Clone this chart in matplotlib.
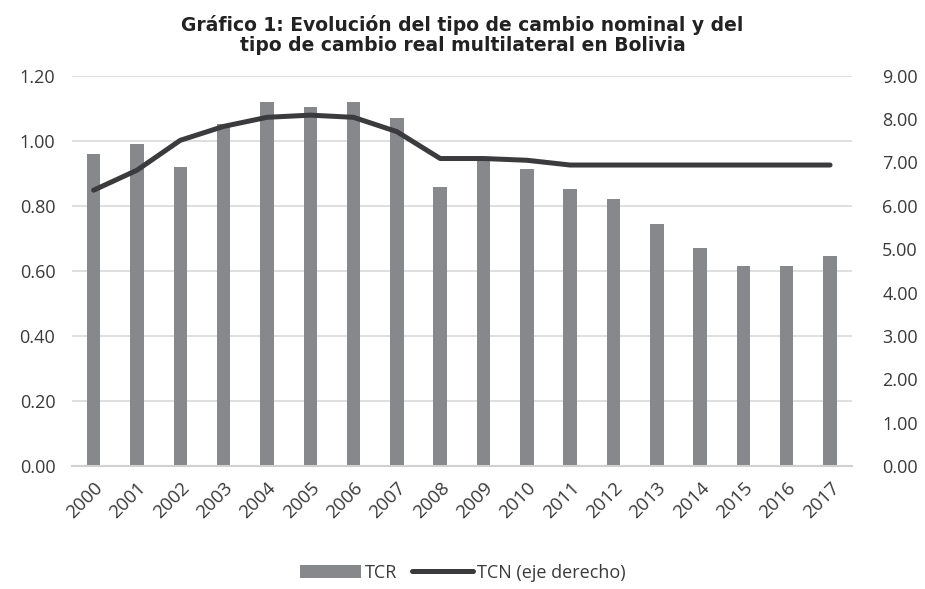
import matplotlib
matplotlib.use('Agg')
import matplotlib.pyplot as plt
import numpy as np

# Data
years = ['2000', '2001', '2002', '2003', '2004', '2005', '2006', '2007', '2008',
         '2009', '2010', '2011', '2012', '2013', '2014', '2015', '2016', '2017']
tcr = [0.96, 0.99, 0.92, 1.05, 1.12, 1.105, 1.12, 1.07, 0.857,
       0.945, 0.913, 0.851, 0.821, 0.744, 0.670, 0.615, 0.615, 0.645]
tcn = [6.36, 6.82, 7.51, 7.83, 8.04, 8.09, 8.04, 7.71, 7.09,
       7.09, 7.05, 6.94, 6.94, 6.94, 6.94, 6.94, 6.94, 6.94]

left_ticks = [0.0, 0.2, 0.4, 0.6, 0.8, 1.0, 1.2]
right_ticks = [0, 1, 2, 3, 4, 5, 6, 7, 8, 9]

plt.rcParams['font.family'] = ['Open Sans', 'DejaVu Sans']

fig = plt.figure(figsize=(9.25, 5.89), dpi=100)
ax = fig.add_axes([0.0778, 0.2088, 0.843, 0.6627])
ax2 = ax.twinx()

x = np.arange(len(years))
bars = ax.bar(x, tcr, width=0.31, color='#87888c', label='TCR', zorder=2)
line, = ax2.plot(x, tcn, color='#3b3b3d', linewidth=3.6, solid_capstyle='round',
                 label='TCN (eje derecho)', zorder=3)

ax.set_xlim(-0.5, len(years) - 0.5)
ax.set_ylim(0, 1.2)
ax2.set_ylim(0, 9)
ax.set_yticks(left_ticks)
ax.set_yticklabels([f'{v:.2f}' for v in left_ticks])
ax2.set_yticks(right_ticks)
ax2.set_yticklabels([f'{v:.2f}' for v in right_ticks])

ax.set_xticks(x)
ax.set_xticklabels(years, rotation=45, ha='right', rotation_mode='anchor')

ax.yaxis.grid(True, color='#d9d9d9', linewidth=1.2, zorder=0)
ax.set_axisbelow(True)

for a in (ax, ax2):
    for s in ('top', 'left', 'right', 'bottom'):
        a.spines[s].set_visible(False)
ax.spines['bottom'].set_visible(True)
ax.spines['bottom'].set_color('#d0d0d0')
ax.spines['bottom'].set_linewidth(1.5)

ax.tick_params(axis='y', length=0, labelsize=13, colors='#3a3a3a', pad=12)
ax2.tick_params(axis='y', length=0, labelsize=13, colors='#3a3a3a', pad=22)
ax.tick_params(axis='x', length=0, labelsize=13.5, colors='#3a3a3a', pad=9)

ax.set_zorder(ax2.get_zorder() - 1)
ax.patch.set_visible(True)
ax2.patch.set_visible(False)

fig.text(0.5, 0.975, 'Gráfico 1: Evolución del tipo de cambio nominal y del\n'
         'tipo de cambio real multilateral en Bolivia',
         ha='center', va='top', fontsize=13.5, fontweight='bold',
         family=['DejaVu Sans'], color='#222222', linespacing=1.1)

fig.legend([bars, line], ['TCR', 'TCN (eje derecho)'], loc='center',
           bbox_to_anchor=(0.5, 0.028), ncol=2, frameon=False, fontsize=13,
           handlelength=3.4, handletextpad=0.2, columnspacing=0.8,
           labelcolor='#3a3a3a')

fig.savefig('out.png', dpi=100)
